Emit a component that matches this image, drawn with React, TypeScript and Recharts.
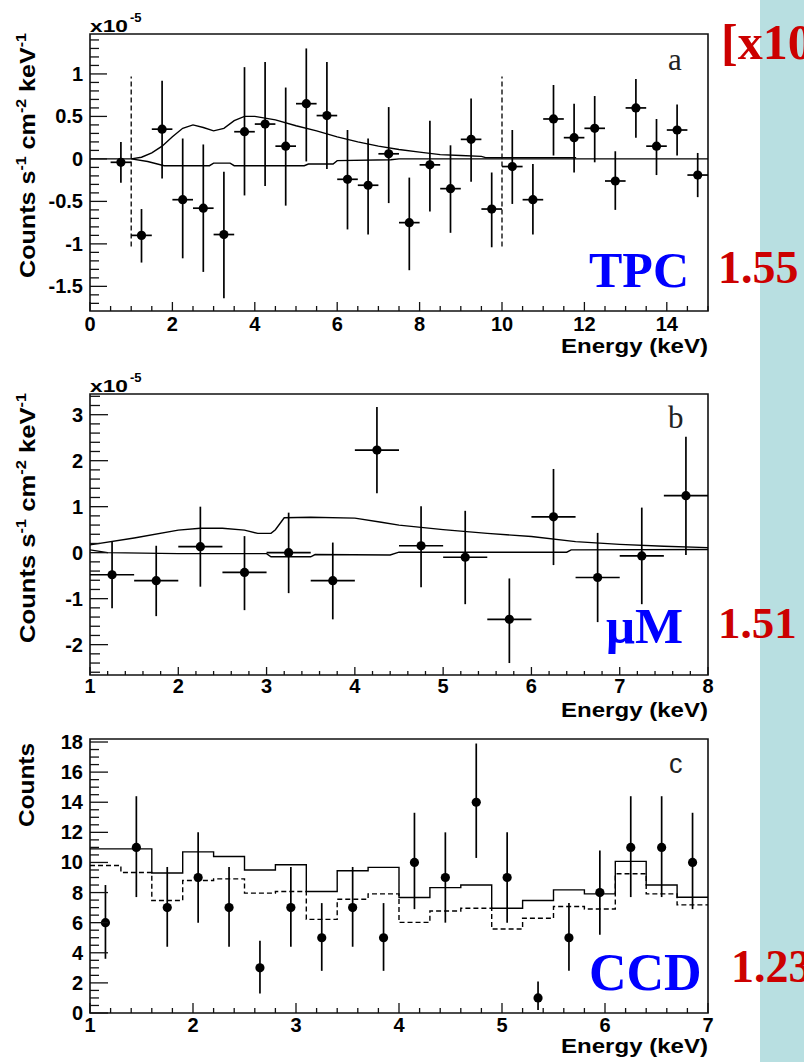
import React from 'react';
import { ComposedChart, XAxis, YAxis, Scatter, ErrorBar, Line, ReferenceArea, ReferenceLine } from 'recharts';

const SANS = '"Liberation Sans", Arial, Helvetica, sans-serif';
const SERIF = '"Liberation Serif", "Times New Roman", serif';

// ---------------- Panel a (TPC) ----------------
const aEnergy = [0.75, 1.25, 1.75, 2.25, 2.75, 3.25, 3.75, 4.25, 4.75, 5.25, 5.75, 6.25, 6.75, 7.25, 7.75, 8.25, 8.75, 9.25, 9.75, 10.25, 10.75, 11.25, 11.75, 12.25, 12.75, 13.25, 13.75, 14.25, 14.75];
const aFlux = [-0.04, -0.9, 0.35, -0.48, -0.58, -0.89, 0.32, 0.41, 0.15, 0.65, 0.51, -0.24, -0.31, 0.06, -0.75, -0.07, -0.35, 0.23, -0.59, -0.09, -0.48, 0.47, 0.25, 0.36, -0.26, 0.6, 0.15, 0.34, -0.19];
const aFluxHigh = [0.2, -0.59, 0.92, 0.24, 0.17, -0.15, 1.08, 1.14, 0.84, 1.3, 1.14, 0.34, 0.24, 0.61, -0.22, 0.45, 0.16, 0.71, -0.16, 0.34, -0.06, 0.87, 0.65, 0.74, 0.09, 0.94, 0.47, 0.64, 0.07];
const aFluxLow = [-0.28, -1.22, -0.23, -1.17, -1.33, -1.64, -0.43, -0.32, -0.55, -0.03, -0.12, -0.83, -0.89, -0.52, -1.31, -0.62, -0.87, -0.27, -1.04, -0.53, -0.89, 0.04, -0.16, -0.04, -0.6, 0.25, -0.19, 0.04, -0.45];
const aHalfBin = 0.25;
const aModelX = [1.0, 1.25, 1.5, 1.75, 2.0, 2.25, 2.5, 2.75, 3.0, 3.25, 3.5, 3.75, 4.0, 4.25, 4.5, 5.0, 5.5, 6.0, 6.5, 7.0, 7.5, 8.0, 8.5, 9.0, 9.5, 9.6, 11.8];
const aModelY = [0.0, 0.02, 0.07, 0.15, 0.26, 0.36, 0.4, 0.37, 0.33, 0.36, 0.45, 0.5, 0.5, 0.48, 0.46, 0.39, 0.33, 0.26, 0.2, 0.15, 0.11, 0.08, 0.05, 0.04, 0.03, 0.015, 0.015];
const aBaseX = [0, 1.0, 1.4, 1.8, 2.9, 3.0, 3.4, 3.5, 5.2, 5.3, 5.9, 6.0, 7.3, 7.5, 15];
const aBaseY = [0, 0, -0.03, -0.08, -0.08, -0.05, -0.05, -0.08, -0.08, -0.06, -0.06, -0.02, -0.01, 0, 0];
const aDashX = [1, 10];
const aDashTop = [0.97, 0.97];
const aDashBottom = [-1.03, -1.03];
const aXMajor = [0, 2, 4, 6, 8, 10, 12, 14];
const aXLabels = ['0', '2', '4', '6', '8', '10', '12', '14'];
const aYMajor = [-1.5, -1, -0.5, 0, 0.5, 1];
const aYLabels = ['-1.5', '-1', '-0.5', '0', '0.5', '1'];

// ---------------- Panel b (μM) ----------------
const bEnergy = [1.25, 1.75, 2.25, 2.75, 3.25, 3.75, 4.25, 4.75, 5.25, 5.75, 6.25, 6.75, 7.25, 7.75];
const bFlux = [-0.48, -0.61, 0.13, -0.43, 0.0, -0.61, 2.23, 0.15, -0.1, -1.45, 0.78, -0.54, -0.07, 1.24];
const bFluxHigh = [0.24, 0.15, 1.0, 0.36, 0.87, 0.22, 3.17, 1.01, 0.91, -0.56, 1.82, 0.43, 0.98, 2.52];
const bFluxLow = [-1.21, -1.38, -0.74, -1.25, -0.88, -1.45, 1.29, -0.75, -1.12, -2.4, -0.27, -1.51, -1.12, -0.05];
const bHalfBin = 0.25;
const bModelX = [1.0, 1.5, 2.0, 2.25, 2.5, 2.75, 2.9, 3.05, 3.1, 3.2, 3.5, 4.0, 4.3, 4.5, 5.0, 5.5, 6.0, 6.5, 7.0, 7.5, 8.0];
const bModelY = [0.17, 0.32, 0.49, 0.53, 0.53, 0.49, 0.42, 0.42, 0.5, 0.76, 0.77, 0.75, 0.66, 0.6, 0.5, 0.42, 0.35, 0.24, 0.18, 0.14, 0.11];
const bBaseX = [1.0, 1.2, 2.0, 3.0, 3.05, 3.5, 3.55, 4.4, 4.5, 6.4, 6.45, 8.0];
const bBaseY = [0.06, 0.0, -0.02, -0.02, -0.09, -0.09, -0.04, -0.05, 0.01, 0.01, 0.06, 0.07];
const bXMajor = [1, 2, 3, 4, 5, 6, 7, 8];
const bXLabels = ['1', '2', '3', '4', '5', '6', '7', '8'];
const bYMajor = [-2, -1, 0, 1, 2, 3];
const bYLabels = ['-2', '-1', '0', '1', '2', '3'];

// ---------------- Panel c (CCD) ----------------
const cEnergy = [1.15, 1.45, 1.75, 2.05, 2.35, 2.65, 2.95, 3.25, 3.55, 3.85, 4.15, 4.45, 4.75, 5.05, 5.35, 5.65, 5.95, 6.25, 6.55, 6.85];
const cCounts = [6, 11, 7, 9, 7, 3, 7, 5, 7, 5, 10, 9, 14, 9, 1, 5, 8, 11, 11, 10];
const cCountsHigh = [8.5, 14.4, 9.7, 12.0, 9.7, 4.8, 9.7, 7.3, 9.7, 7.3, 13.3, 12.0, 17.9, 12.0, 2.1, 7.3, 10.8, 14.4, 14.4, 13.3];
const cCountsLow = [3.6, 7.7, 4.4, 6.0, 4.4, 1.3, 4.4, 2.8, 4.4, 2.8, 6.9, 6.0, 10.3, 6.0, 0.2, 2.8, 5.2, 7.7, 7.7, 6.9];
const cBinEdges = [1.0, 1.3, 1.6, 1.9, 2.2, 2.5, 2.8, 3.1, 3.4, 3.7, 4.0, 4.3, 4.6, 4.9, 5.2, 5.5, 5.8, 6.1, 6.4, 6.7, 7.0];
const cModelSolid = [10.9, 10.9, 9.3, 10.7, 10.4, 9.5, 9.85, 8.07, 9.45, 9.67, 7.67, 8.33, 8.5, 6.96, 7.47, 8.18, 7.91, 10.07, 8.5, 7.69];
const cModelDashed = [9.8, 9.33, 7.47, 8.8, 8.91, 7.96, 8.07, 6.22, 7.56, 7.91, 6.02, 6.78, 6.96, 5.58, 6.29, 7.07, 6.91, 9.25, 7.91, 7.18];
const cXMajor = [1, 2, 3, 4, 5, 6, 7];
const cXLabels = ['1', '2', '3', '4', '5', '6', '7'];
const cYMajor = [0, 2, 4, 6, 8, 10, 12, 14, 16, 18];
const cYLabels = ['0', '2', '4', '6', '8', '10', '12', '14', '16', '18'];

// ---------------- helpers ----------------
const range = (start: number, stop: number, step: number) => {
  const out: number[] = [];
  const n = Math.round((stop - start) / step);
  for (let i = 0; i <= n; i++) out.push(+(start + i * step).toFixed(6));
  return out;
};

const mergeTicks = (major: number[], minor: number[], dom: [number, number]) => {
  const all = [...major];
  minor.forEach((m) => {
    if (!all.some((v) => Math.abs(v - m) < 1e-6)) all.push(m);
  });
  return all.filter((v) => v >= dom[0] - 1e-9 && v <= dom[1] + 1e-9).sort((a, b) => a - b);
};

const toPoints = (xs: number[], ys: number[], hi: number[], lo: number[], half: number) =>
  xs.map((x, i) => ({ x, y: ys[i], ey: [ys[i] - lo[i], hi[i] - ys[i]], ex: [half, half] }));

const toLine = (xs: number[], ys: number[]) => xs.map((x, i) => ({ x, y: ys[i] }));

const toSteps = (edges: number[], vals: number[]) =>
  edges.map((x, i) => ({ x, y: i < vals.length ? vals[i] : vals[vals.length - 1] }));

type LineSpec = { data: { x: number; y: number }[]; type: 'linear' | 'stepAfter'; dash?: string };

type PanelProps = {
  top: number;
  height: number;
  marginTop: number;
  marginBottom: number;
  xDomain: [number, number];
  yDomain: [number, number];
  xMajor: number[];
  xLabels: string[];
  xMinor: number[];
  yMajor: number[];
  yLabels: string[];
  yMinor: number[];
  xTickLen: [number, number];
  yTickLen: [number, number];
  xLabelDy: number;
  points: any[];
  showXErr: boolean;
  lines: LineSpec[];
  vlines?: { x: number; y1: number; y2: number }[];
};

const INK = '#111';

function Panel(p: PanelProps) {
  const xTicks = mergeTicks(p.xMajor, p.xMinor, p.xDomain);
  const yTicks = mergeTicks(p.yMajor, p.yMinor, p.yDomain);

  const xTick = (t: any) => {
    const v = t.payload.value;
    const idx = p.xMajor.findIndex((m) => Math.abs(m - v) < 1e-6);
    const len = idx >= 0 ? p.xTickLen[0] : p.xTickLen[1];
    return (
      <g>
        <line x1={t.x} x2={t.x} y1={t.y} y2={t.y - len} stroke={INK} strokeWidth={1.3} />
        {idx >= 0 && (
          <text x={t.x} y={t.y + p.xLabelDy} textAnchor="middle" fontFamily={SANS} fontWeight="bold" fontSize={20} fill="#000">
            {p.xLabels[idx]}
          </text>
        )}
      </g>
    );
  };

  const yTick = (t: any) => {
    const v = t.payload.value;
    const idx = p.yMajor.findIndex((m) => Math.abs(m - v) < 1e-6);
    const len = idx >= 0 ? p.yTickLen[0] : p.yTickLen[1];
    return (
      <g>
        <line x1={t.x} x2={t.x + len} y1={t.y} y2={t.y} stroke={INK} strokeWidth={1.3} />
        {idx >= 0 && (
          <text x={t.x - 7} y={t.y + 7} textAnchor="end" fontFamily={SANS} fontWeight="bold" fontSize={20} fill="#000">
            {p.yLabels[idx]}
          </text>
        )}
      </g>
    );
  };

  const dot = (s: any) => <circle cx={s.cx} cy={s.cy} r={4.6} fill="#000" />;

  return (
    <div style={{ position: 'absolute', left: 0, top: p.top }}>
      <ComposedChart width={760} height={p.height} margin={{ top: p.marginTop, right: 52, bottom: 0, left: 0 }}>
        <XAxis
          dataKey="x"
          type="number"
          domain={p.xDomain}
          allowDataOverflow
          ticks={xTicks}
          interval={0}
          height={p.marginBottom}
          tickSize={0}
          tickMargin={0}
          axisLine={false}
          tickLine={false}
          tick={xTick}
        />
        <YAxis
          dataKey="y"
          type="number"
          domain={p.yDomain}
          allowDataOverflow
          ticks={yTicks}
          interval={0}
          width={90}
          tickSize={0}
          tickMargin={0}
          axisLine={false}
          tickLine={false}
          tick={yTick}
        />
        <ReferenceArea
          x1={p.xDomain[0]}
          x2={p.xDomain[1]}
          y1={p.yDomain[0]}
          y2={p.yDomain[1]}
          fill="none"
          fillOpacity={0}
          stroke={INK}
          strokeWidth={1.6}
          ifOverflow="visible"
        />
        {(p.vlines || []).map((v, i) => (
          <ReferenceLine
            key={'v' + i}
            segment={[{ x: v.x, y: v.y1 }, { x: v.x, y: v.y2 }]}
            stroke="#000"
            strokeWidth={1.3}
            strokeDasharray="5 3"
            ifOverflow="visible"
          />
        ))}
        {p.lines.map((l, i) => (
          <Line
            key={'l' + i}
            data={l.data}
            dataKey="y"
            type={l.type}
            dot={false}
            activeDot={false}
            stroke="#000"
            strokeWidth={1.4}
            strokeDasharray={l.dash}
            isAnimationActive={false}
            legendType="none"
          />
        ))}
        <Scatter data={p.points} dataKey="y" isAnimationActive={false} shape={dot}>
          <ErrorBar dataKey="ey" direction="y" width={0} stroke="#000" strokeWidth={1.7} />
          {p.showXErr ? <ErrorBar dataKey="ex" direction="x" width={0} stroke="#000" strokeWidth={1.7} /> : null}
        </Scatter>
      </ComposedChart>
    </div>
  );
}

function YTitle({ x, y, length }: { x: number; y: number; length: number }) {
  return (
    <text
      transform={`translate(${x},${y}) rotate(-90)`}
      fontFamily={SANS}
      fontWeight="bold"
      fontSize={22}
      fill="#000"
      textLength={length}
      lengthAdjust="spacingAndGlyphs"
    >
      Counts s<tspan dy={-9} fontSize={14}>-1</tspan>
      <tspan dy={9} fontSize={22}> cm</tspan>
      <tspan dy={-9} fontSize={14}>-2</tspan>
      <tspan dy={9} fontSize={22}> keV</tspan>
      <tspan dy={-9} fontSize={14}>-1</tspan>
    </text>
  );
}

function Exponent({ x, y }: { x: number; y: number }) {
  return (
    <g>
      <text x={x} y={y} fontFamily={SANS} fontWeight="bold" fontSize={17} fill="#000" textLength={38} lengthAdjust="spacingAndGlyphs">
        x10
      </text>
      <text x={x + 40} y={y - 10} fontFamily={SANS} fontWeight="bold" fontSize={13} fill="#000">
        -5
      </text>
    </g>
  );
}

function EnergyTitle({ y }: { y: number }) {
  return (
    <text x={708} y={y} textAnchor="end" fontFamily={SANS} fontWeight="bold" fontSize={21} fill="#000" textLength={147} lengthAdjust="spacingAndGlyphs">
      Energy (keV)
    </text>
  );
}

export default function App() {
  const aPoints = toPoints(aEnergy, aFlux, aFluxHigh, aFluxLow, aHalfBin);
  const bPoints = toPoints(bEnergy, bFlux, bFluxHigh, bFluxLow, bHalfBin);
  const cPoints = toPoints(cEnergy, cCounts, cCountsHigh, cCountsLow, 0);

  return (
    <div style={{ position: 'absolute', left: 0, top: 0, width: 804, height: 1062, background: '#fff', overflow: 'hidden' }}>
      <div style={{ position: 'absolute', left: 760, top: 0, width: 44, height: 1062, background: '#b8dfe1' }} />

      <Panel
        top={0}
        height={350}
        marginTop={34}
        marginBottom={39}
        xDomain={[0, 15]}
        yDomain={[-1.79, 1.47]}
        xMajor={aXMajor}
        xLabels={aXLabels}
        xMinor={range(0, 15, 0.5)}
        yMajor={aYMajor}
        yLabels={aYLabels}
        yMinor={range(-1.7, 1.4, 0.1)}
        xTickLen={[9, 5]}
        yTickLen={[17, 9]}
        xLabelDy={20}
        points={aPoints}
        showXErr={true}
        lines={[
          { data: toLine(aBaseX, aBaseY), type: 'linear' },
          { data: toLine(aModelX, aModelY), type: 'linear' },
        ]}
        vlines={aDashX.map((x, i) => ({ x, y1: aDashBottom[i], y2: aDashTop[i] }))}
      />

      <Panel
        top={355}
        height={365}
        marginTop={39}
        marginBottom={45}
        xDomain={[1, 8]}
        yDomain={[-2.66, 3.45]}
        xMajor={bXMajor}
        xLabels={bXLabels}
        xMinor={range(1, 8, 0.2)}
        yMajor={bYMajor}
        yLabels={bYLabels}
        yMinor={range(-2.6, 3.4, 0.2)}
        xTickLen={[8, 4]}
        yTickLen={[18, 10]}
        xLabelDy={18}
        points={bPoints}
        showXErr={true}
        lines={[
          { data: toLine(bBaseX, bBaseY), type: 'linear' },
          { data: toLine(bModelX, bModelY), type: 'linear' },
        ]}
      />

      <Panel
        top={720}
        height={342}
        marginTop={19}
        marginBottom={49}
        xDomain={[1, 7]}
        yDomain={[0, 18.2]}
        xMajor={cXMajor}
        xLabels={cXLabels}
        xMinor={range(1, 7, 0.2)}
        yMajor={cYMajor}
        yLabels={cYLabels}
        yMinor={range(0, 18, 0.5)}
        xTickLen={[10, 5]}
        yTickLen={[18, 9]}
        xLabelDy={19}
        points={cPoints}
        showXErr={false}
        lines={[
          { data: toSteps(cBinEdges, cModelSolid), type: 'stepAfter' },
          { data: toSteps(cBinEdges, cModelDashed), type: 'stepAfter', dash: '5 3' },
        ]}
      />

      <svg width={804} height={1062} style={{ position: 'absolute', left: 0, top: 0, pointerEvents: 'none' }}>
        <YTitle x={35} y={278} length={245} />
        <YTitle x={35} y={643} length={250} />
        <text transform="translate(34,827) rotate(-90)" fontFamily={SANS} fontWeight="bold" fontSize={22} fill="#000" textLength={84} lengthAdjust="spacingAndGlyphs">
          Counts
        </text>

        <Exponent x={90} y={32} />
        <Exponent x={90} y={392} />

        <EnergyTitle y={353} />
        <EnergyTitle y={717} />
        <EnergyTitle y={1053} />

        <text x={668} y={70} fontFamily={SERIF} fontSize={31} fill="#222">a</text>
        <text x={668} y={428} fontFamily={SERIF} fontSize={31} fill="#222">b</text>
        <text x={669} y={773} fontFamily={SANS} fontSize={27} fill="#222">c</text>

        <text x={589} y={287} fontFamily={SERIF} fontWeight="bold" fontSize={50} fill="#0000ff">TPC</text>
        <text x={606} y={643} fontFamily={SERIF} fontWeight="bold" fontSize={51} fill="#0000ff">μM</text>
        <text x={589} y={990} fontFamily={SERIF} fontWeight="bold" fontSize={52} fill="#0000ff">CCD</text>

        <text x={721} y={59} fontFamily={SERIF} fontWeight="bold" fontSize={50} fill="#cc0000">[x10</text>
        <text x={718} y={283} fontFamily={SERIF} fontWeight="bold" fontSize={46} fill="#cc0000">1.55</text>
        <text x={718} y={638} fontFamily={SERIF} fontWeight="bold" fontSize={45} fill="#cc0000">1.51</text>
        <text x={731} y={982} fontFamily={SERIF} fontWeight="bold" fontSize={46} fill="#cc0000">1.23</text>
      </svg>
    </div>
  );
}
